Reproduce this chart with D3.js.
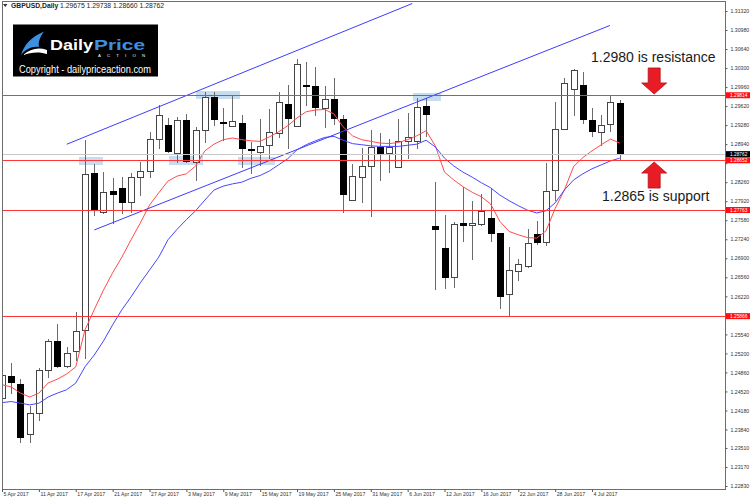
<!DOCTYPE html>
<html>
<head>
<meta charset="utf-8">
<script src="https://cdn.jsdelivr.net/npm/d3@7"></script>
<style>
body { margin: 0; background: #fff; }
svg { display: block; font-family: "Liberation Sans", Arial, sans-serif; }
</style>
</head>
<body>
<div id="chart"></div>
<script>
// data (GBPUSD daily)
const dates = ["2017-04-05","2017-04-06","2017-04-07","2017-04-10","2017-04-11","2017-04-12","2017-04-13","2017-04-14","2017-04-17","2017-04-18",
  "2017-04-19","2017-04-20","2017-04-21","2017-04-24","2017-04-25","2017-04-26","2017-04-27","2017-04-28","2017-05-01","2017-05-02",
  "2017-05-03","2017-05-04","2017-05-05","2017-05-08","2017-05-09","2017-05-10","2017-05-11","2017-05-12","2017-05-15","2017-05-16",
  "2017-05-17","2017-05-18","2017-05-19","2017-05-22","2017-05-23","2017-05-24","2017-05-25","2017-05-26","2017-05-29","2017-05-30",
  "2017-05-31","2017-06-01","2017-06-02","2017-06-05","2017-06-06","2017-06-07","2017-06-08","2017-06-09","2017-06-12","2017-06-13",
  "2017-06-14","2017-06-15","2017-06-16","2017-06-19","2017-06-20","2017-06-21","2017-06-22","2017-06-23","2017-06-26","2017-06-27",
  "2017-06-28","2017-06-29","2017-06-30","2017-07-03","2017-07-04","2017-07-05","2017-07-06","2017-07-07"];

const opens = [1.24405,1.24803,1.24660,1.23756,1.24142,1.24905,1.25418,1.24977,1.25245,1.25620,
  1.28420,1.27723,1.28104,1.28163,1.27902,1.28349,1.28461,1.29028,1.29283,1.28778,
  1.29373,1.28627,1.29194,1.29789,1.29337,1.29271,1.29319,1.28845,1.28795,1.28926,
  1.29135,1.29659,1.29265,1.29989,1.29980,1.29582,1.29748,1.29391,1.27943,1.28359,
  1.28556,1.28896,1.28778,1.28527,1.29003,1.29003,1.29623,1.27484,1.27091,1.26562,
  1.27537,1.27496,1.27514,1.27616,1.27348,1.26258,1.26680,1.26769,1.27330,1.27187,
  1.28122,1.29212,1.29921,1.29998,1.29373,1.29164,1.29296,1.29675];
const highs = [1.24959,1.25036,1.24744,1.24267,1.24936,1.25454,1.25727,1.25322,1.25936,1.29015,
  1.28581,1.28449,1.28331,1.28349,1.28420,1.28627,1.29164,1.29641,1.29403,1.29432,
  1.29474,1.29253,1.29868,1.29868,1.29582,1.29819,1.29462,1.28985,1.29385,1.29569,
  1.29878,1.29998,1.30457,1.30414,1.30325,1.29980,1.30118,1.29462,1.28581,1.28867,
  1.29194,1.29146,1.29028,1.29391,1.29492,1.29760,1.29771,1.28259,1.27675,1.27555,
  1.28170,1.27931,1.28050,1.28134,1.27354,1.27098,1.26889,1.27419,1.27573,1.28599,
  1.29700,1.30118,1.30284,1.30236,1.29582,1.29462,1.29819,1.29738];
const lows = [1.24226,1.24489,1.23624,1.23624,1.24012,1.24785,1.24959,1.24959,1.25084,1.25120,
  1.27675,1.27705,1.27537,1.27705,1.27723,1.28032,1.28359,1.28867,1.28806,1.28627,
  1.28627,1.28300,1.28985,1.29283,1.29015,1.29256,1.28533,1.28420,1.28568,1.28694,
  1.29063,1.28867,1.29256,1.29641,1.29462,1.29253,1.29301,1.27723,1.27934,1.27913,
  1.27662,1.28300,1.28449,1.28524,1.28688,1.28867,1.29087,1.26347,1.26365,1.26394,
  1.27210,1.26883,1.27496,1.27216,1.26008,1.25870,1.26513,1.26740,1.27157,1.27139,
  1.27943,1.29203,1.29462,1.29314,1.29087,1.28926,1.29176,1.28660];
const closes = [1.24816,1.24685,1.23702,1.24142,1.24905,1.25423,1.24977,1.25214,1.25602,1.28402,
  1.27764,1.28091,1.28045,1.27902,1.28349,1.28456,1.29028,1.29462,1.28824,1.29373,
  1.28640,1.29194,1.29789,1.29385,1.29326,1.29360,1.28867,1.28831,1.28913,1.29164,
  1.29689,1.29403,1.30368,1.29980,1.29610,1.29748,1.29403,1.28050,1.28377,1.28556,
  1.28896,1.28788,1.28896,1.29003,1.29074,1.29600,1.29474,1.27419,1.26572,1.27509,
  1.27496,1.27527,1.27752,1.27348,1.26228,1.26692,1.26799,1.27169,1.27187,1.28104,
  1.29212,1.30028,1.30266,1.29385,1.29176,1.29283,1.29689,1.28762];

// moving averages as drawn (red fast, blue slow)
const maFast = [1.2464,1.2460,1.2449,1.2442,1.2449,1.2467,1.2474,1.2483,1.2496,1.2562,
  1.2598,1.2633,1.2664,1.2692,1.2723,1.2753,1.2785,1.2807,1.2828,1.2837,
  1.2841,1.2855,1.2882,1.2894,1.2902,1.2905,1.2902,1.2900,1.2899,1.2907,
  1.2916,1.2927,1.2941,1.2952,1.2955,1.2956,1.2948,1.2925,1.2909,1.2902,
  1.2899,1.2896,1.2895,1.2897,1.2902,1.2909,1.2918,1.2891,1.2844,1.2830,
  1.2818,1.2808,1.2800,1.2787,1.2756,1.2738,1.2732,1.2727,1.2726,1.2739,
  1.2779,1.2812,1.2854,1.2870,1.2882,1.2893,1.2903,1.2896];
const maSlow = [1.2432,1.2434,1.2431,1.2428,1.2431,1.2442,1.2449,1.2455,1.2467,1.2496,
  1.2517,1.2542,1.2571,1.2598,1.2621,1.2646,1.2669,1.2692,1.2723,1.2742,
  1.2759,1.2775,1.2794,1.2812,1.2819,1.2823,1.2826,1.2833,1.2838,1.2846,
  1.2857,1.2868,1.2884,1.2893,1.2900,1.2906,1.2908,1.2901,1.2895,1.2893,
  1.2891,1.2890,1.2890,1.2890,1.2892,1.2894,1.2901,1.2889,1.2869,1.2855,
  1.2844,1.2835,1.2825,1.2816,1.2803,1.2793,1.2784,1.2776,1.2771,1.2775,
  1.2789,1.2812,1.2830,1.2841,1.2850,1.2857,1.2864,1.2869];

const yTickLabels = ["1.31320","1.30980","1.30640","1.30300","1.29960","1.29620","1.29280","1.28940","1.28600",
  "1.28260","1.27920","1.27580","1.27240","1.26900","1.26560","1.26220","1.25880","1.25540","1.25200",
  "1.24860","1.24520","1.24180","1.23840","1.23510","1.23170","1.22830"];

const levels = [1.29814, 1.28652, 1.27763, 1.25866];
const lastPrice = 1.28762;

// highlight zones (bar index range, price range)
const zoneStart = [8.35, 18.11, 25.60, 21.04, 44.58];
const zoneEnd = [10.95, 21.80, 29.61, 25.81, 47.61];
const zoneTop = [1.28711, 1.28729, 1.28711, 1.29891, 1.29855];
const zoneBottom = [1.28568, 1.28568, 1.28568, 1.29748, 1.29712];

// channel lines
const trendStartIdx = [7.02, 10.01];
const trendStartPrice = [1.28938, 1.27407];
const trendEndIdx = [44.5, 65.94];
const trendEndPrice = [1.31454, 1.31061];

const noteIdx = 70.74;
const noteTexts = ["1.2980 is resistance", "1.2865 is support"];

//setup
const W = 750, H = 501;
const plotL = 2, plotT = 1, plotR = 725, plotB = 489;

const svg = d3.select("#chart").append("svg")
  .attr("width", W)
  .attr("height", H);

svg.append("defs").append("clipPath").attr("id", "clip")
  .append("rect")
  .attr("x", plotL + 0.5).attr("y", plotT + 0.5)
  .attr("width", plotR - plotL).attr("height", plotB - plotT);

const x = d3.scaleLinear().domain([0, 67]).range([2, 619.7]);
const y = d3.scaleLinear().domain([1.22830, 1.31320]).range([486, 11]);
const px = v => Math.round(v) + 0.5;
const parse = d3.timeParse("%Y-%m-%d");
const fmt = d3.timeFormat("%-d %b %Y");

const bars = dates.map((d, i) => ({i: i, o: opens[i], h: highs[i], l: lows[i], c: closes[i]}));

const plot = svg.append("g").attr("clip-path", "url(#clip)");

// zones behind candles
plot.selectAll(".zone")
  .data(d3.range(zoneStart.length))
  .join("rect")
  .attr("class", "zone")
  .attr("x", i => x(zoneStart[i]))
  .attr("y", i => y(zoneTop[i]))
  .attr("width", i => x(zoneEnd[i]) - x(zoneStart[i]))
  .attr("height", i => y(zoneBottom[i]) - y(zoneTop[i]))
  .attr("fill", "#c6dcef");

// candles
plot.selectAll(".wick")
  .data(bars)
  .join("line")
  .attr("class", "wick")
  .attr("x1", d => px(x(d.i))).attr("x2", d => px(x(d.i)))
  .attr("y1", d => Math.round(y(d.h)))
  .attr("y2", d => Math.round(y(d.l)) + 1)
  .attr("stroke", "#6a6a6a")
  .attr("stroke-width", 1);

plot.selectAll(".body")
  .data(bars)
  .join("rect")
  .attr("class", "body")
  .attr("x", d => Math.round(x(d.i)) - 2.5)
  .attr("y", d => px(y(Math.max(d.o, d.c))))
  .attr("width", 6)
  .attr("height", d => Math.max(0, Math.round(y(Math.min(d.o, d.c))) - Math.round(y(Math.max(d.o, d.c)))))
  .attr("fill", d => d.c >= d.o ? "#fff" : "#000")
  .attr("stroke", d => d.c >= d.o ? "#454545" : "#000")
  .attr("stroke-width", 1);

// moving averages
const maLine = d3.line().x((d, i) => x(i)).y(d => y(d));
plot.append("path").datum(maFast)
  .attr("d", maLine).attr("fill", "none")
  .attr("stroke", "#ff4b4b").attr("stroke-width", 1);
plot.append("path").datum(maSlow)
  .attr("d", maLine).attr("fill", "none")
  .attr("stroke", "#4646ff").attr("stroke-width", 1);

// channel
plot.selectAll(".trend")
  .data(d3.range(trendStartIdx.length))
  .join("line")
  .attr("class", "trend")
  .attr("x1", i => x(trendStartIdx[i])).attr("y1", i => y(trendStartPrice[i]))
  .attr("x2", i => x(trendEndIdx[i])).attr("y2", i => y(trendEndPrice[i]))
  .attr("stroke", "#3c3cff").attr("stroke-width", 1);

// levels
plot.append("line")
  .attr("x1", plotL).attr("x2", plotR)
  .attr("y1", px(y(lastPrice))).attr("y2", px(y(lastPrice)))
  .attr("stroke", "#c8c8c8");
plot.selectAll(".level")
  .data(levels)
  .join("line")
  .attr("class", "level")
  .attr("x1", plotL).attr("x2", plotR)
  .attr("y1", d => px(y(d))).attr("y2", d => px(y(d)))
  .attr("stroke", "#ff3434").attr("stroke-width", 1);

// frame
svg.append("rect")
  .attr("x", plotL + 0.5).attr("y", plotT + 0.5)
  .attr("width", plotR - plotL).attr("height", plotB - plotT)
  .attr("fill", "none").attr("stroke", "#6e6e6e");

// axes
const tagPrices = levels.concat([lastPrice]);
const yAxis = d3.axisRight(y)
  .tickValues(yTickLabels.map(Number))
  .tickFormat((d, i) => yTickLabels[i])
  .tickSize(2).tickPadding(3);
const ya = svg.append("g").attr("transform", "translate(" + (plotR + 0.5) + ",0)").call(yAxis);
ya.select(".domain").remove();
ya.selectAll("line").attr("stroke", "#555");
ya.selectAll("text").attr("font-size", "5.2px").attr("fill", "#333").attr("font-family", "Liberation Sans, Arial");
// labels hidden under the price tags, as on the terminal
ya.selectAll(".tick")
  .filter(d => tagPrices.some(p => Math.abs(y(p) - y(d)) < 6.5))
  .select("text").remove();

const xAxis = d3.axisBottom(x)
  .tickValues(d3.range(0, 65, 4))
  .tickFormat(i => fmt(parse(dates[i])))
  .tickSize(2.5);
const xa = svg.append("g").attr("transform", "translate(0," + (plotB + 0.5) + ")").call(xAxis);
xa.select(".domain").remove();
xa.selectAll("line").attr("stroke", "#555");
xa.selectAll("text")
  .attr("text-anchor", "start").attr("x", 1).attr("y", 2.5)
  .attr("font-size", "5.2px").attr("fill", "#333").attr("font-family", "Liberation Sans, Arial");

// price tags (last price tag on top)
const tags = levels.map(v => ({v: v, bg: "#ff1010"})).concat([{v: lastPrice, bg: "#000"}]);
const tag = svg.selectAll(".tag").data(tags).join("g").attr("class", "tag")
  .attr("transform", d => "translate(" + (plotR + 1) + "," + y(d.v) + ")");
tag.append("rect").attr("x", 0).attr("y", -3).attr("width", 25).attr("height", 6).attr("fill", d => d.bg);
tag.append("text").attr("x", 4).attr("y", 1.7).attr("font-size", "4.8px").attr("fill", "#fff")
  .text(d => d.v.toFixed(5));

// header
const last = bars[bars.length - 1];
svg.append("path").attr("d", "M3,4 L7.5,4 L5.25,7 Z").attr("fill", "#333");
const head = svg.append("text").attr("x", 11).attr("y", 8).attr("font-size", "6.8px").attr("fill", "#222");
head.append("tspan").attr("font-weight", "bold").text("GBPUSD,Daily");
head.append("tspan").text("  " + [last.o, last.h, last.l, last.c].map(d3.format(".5f")).join(" "));

// logo
const logo = svg.append("g");
logo.append("rect").attr("x", 13).attr("y", 24.5).attr("width", 145).attr("height", 52).attr("fill", "#000");
logo.append("path").attr("d", "M21,55 C24,45 31,37 44,31.5 C40,37 38,42 39,47 C32,46 26,49 21,55 Z").attr("fill", "#3d8fe0");
logo.append("path").attr("d", "M23,55 C30,49 38,47 47,50 L47,54 C40,51.5 31,52 23,55 Z").attr("fill", "#fff");
logo.append("text").attr("x", 50).attr("y", 50).attr("font-size", "15px").attr("font-weight", "bold")
  .attr("fill", "#fff").attr("textLength", 43).attr("lengthAdjust", "spacingAndGlyphs").text("Daily");
logo.append("text").attr("x", 94).attr("y", 50).attr("font-size", "15px").attr("font-weight", "bold")
  .attr("fill", "#3d8fe0").attr("textLength", 51).attr("lengthAdjust", "spacingAndGlyphs").text("Price");
logo.append("text").attr("x", 98).attr("y", 57.4).attr("font-size", "4.3px")
  .attr("fill", "#fff").attr("textLength", 47).attr("lengthAdjust", "spacing").text("ACTION");
logo.append("text").attr("x", 19).attr("y", 73).attr("font-size", "10px")
  .attr("fill", "#fff").attr("textLength", 132).attr("lengthAdjust", "spacingAndGlyphs").text("Copyright - dailypriceaction.com");

// arrows + notes
function arrow(cx, tip, dir) {
  // dir 1 = pointing down, -1 = pointing up
  const pts = [[-6, -26], [6, -26], [6, -11], [12.5, -11], [0, 0], [-12.5, -11], [-6, -11]]
    .map(p => [cx + p[0], tip + dir * p[1]]);
  svg.append("path").attr("d", "M" + pts.join("L") + "Z")
    .attr("fill", "#e81c24").attr("stroke", "#b5131a").attr("stroke-width", 0.8);
}
const ax = x(noteIdx);
arrow(ax, y(levels[0]) - 1.3, 1);
arrow(ax, y(levels[1]) + 1.8, -1);

svg.append("text").attr("x", 591).attr("y", y(levels[0]) - 33.3)
  .attr("font-size", "14px").attr("fill", "#1a1a1a").text(noteTexts[0]);
svg.append("text").attr("x", 602).attr("y", y(levels[1]) + 40.7)
  .attr("font-size", "14px").attr("fill", "#1a1a1a").text(noteTexts[1]);
</script>
</body>
</html>
